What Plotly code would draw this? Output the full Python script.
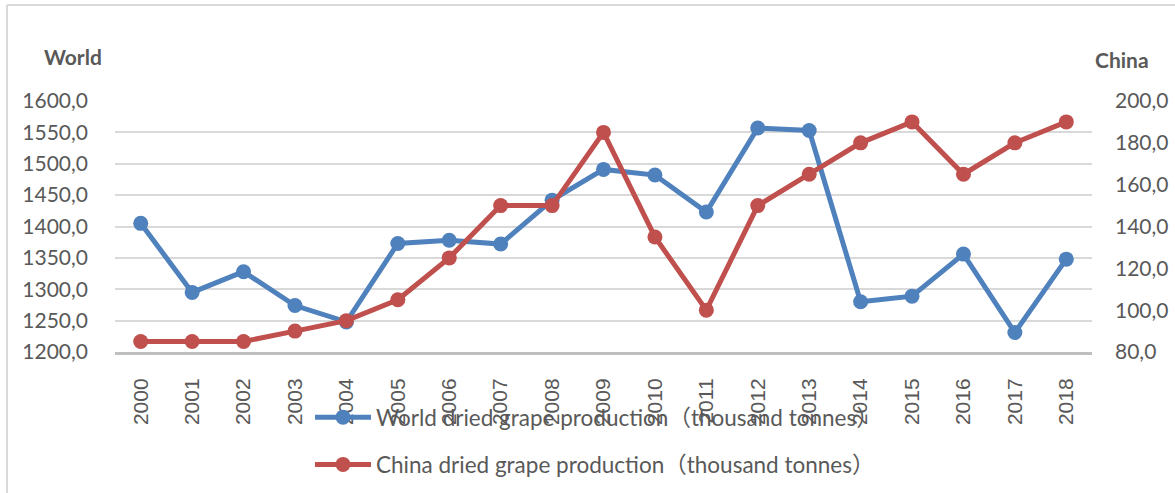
import plotly.graph_objects as go

# Annual dried grape production, thousand tonnes
years = [str(y) for y in range(2000, 2019)]
world_production = [1405, 1295, 1328, 1274, 1248, 1373, 1378, 1372, 1442, 1491,
                    1482, 1423, 1557, 1553, 1280, 1289, 1356, 1231, 1348]
china_production = [85, 85, 85, 90, 95, 105, 125, 150, 150, 185,
                    135, 100, 150, 165, 180, 190, 165, 180, 190]

world_name = "World dried grape production（thousand tonnes）"
china_name = "China dried grape production（thousand tonnes）"

BLUE = "#4F81BD"
RED = "#C0504D"
TEXT = "#595959"
GRID = "#D9D9D9"

W, H = 1175, 493
ML, MR, MT, MB = 115, 83, 101, 141
plot_w = W - ML - MR
plot_h = H - MT - MB


def px_x(p):
    return (p - ML) / plot_w


def px_y(p):
    return (H - MB - p) / plot_h


fig = go.Figure()
fig.add_trace(go.Scatter(
    x=years, y=world_production, name=world_name, mode="lines+markers",
    line=dict(color=BLUE, width=5), marker=dict(color=BLUE, size=15),
    legendgroup="world",
))
fig.add_trace(go.Scatter(
    x=years, y=china_production, name=china_name, mode="lines+markers",
    line=dict(color=RED, width=5), marker=dict(color=RED, size=15),
    yaxis="y2", legendgroup="china",
))

tick_font = dict(family="Lato, 'Noto Sans CJK SC', sans-serif", size=21, color=TEXT)

fig.update_layout(
    width=W, height=H,
    margin=dict(l=ML, r=MR, t=MT, b=MB, pad=0, autoexpand=False),
    paper_bgcolor="white", plot_bgcolor="white",
    separators=",.",
    font=tick_font,
    xaxis=dict(
        type="category", range=[-0.5, 18.5], tickangle=-90,
        tickfont=dict(family="'Liberation Sans', Arial, sans-serif", size=21, color=TEXT),
        showgrid=False, showline=True, linecolor="#BFBFBF", linewidth=3,
        ticks="", ticklabelstandoff=15, zeroline=False, automargin=False,
    ),
    yaxis=dict(
        range=[1200, 1600], dtick=50, tickformat=".1f",
        showgrid=True, gridcolor=GRID, gridwidth=1.5,
        zeroline=False, showline=False, ticks="", automargin=False,
        ticklabelstandoff=26, tickfont=tick_font,
    ),
    yaxis2=dict(
        range=[80, 200], dtick=20, tickformat=".1f",
        overlaying="y", side="right", showgrid=False,
        zeroline=False, showline=False, ticks="", automargin=False,
        ticklabelstandoff=22, tickfont=tick_font,
    ),
    legend=dict(
        xref="container", yref="container",
        x=310 / W, y=1 - 396 / H, xanchor="left", yanchor="top",
        orientation="v", traceorder="grouped", tracegroupgap=15,
        bgcolor="rgba(0,0,0,0)", itemwidth=56,
        font=dict(family="Lato, 'Noto Sans CJK SC', sans-serif", size=22.5, color=TEXT),
    ),
    showlegend=True,
    annotations=[
        dict(text="<b>World</b>", xref="paper", yref="paper",
             x=px_x(73), y=px_y(57), xanchor="center", yanchor="middle",
             showarrow=False, font=dict(family="Lato, sans-serif", size=21, color=TEXT)),
        dict(text="<b>China</b>", xref="paper", yref="paper",
             x=px_x(1122), y=px_y(60), xanchor="center", yanchor="middle",
             showarrow=False, font=dict(family="Lato, sans-serif", size=21, color=TEXT)),
    ],
    shapes=[
        dict(type="line", xref="paper", yref="paper",
             x0=px_x(7), x1=px_x(W + 5), y0=px_y(5), y1=px_y(5),
             line=dict(color=GRID, width=2)),
        dict(type="line", xref="paper", yref="paper",
             x0=px_x(7), x1=px_x(7), y0=px_y(5), y1=px_y(H + 5),
             line=dict(color=GRID, width=2)),
    ],
)

fig.write_html("out.html")
